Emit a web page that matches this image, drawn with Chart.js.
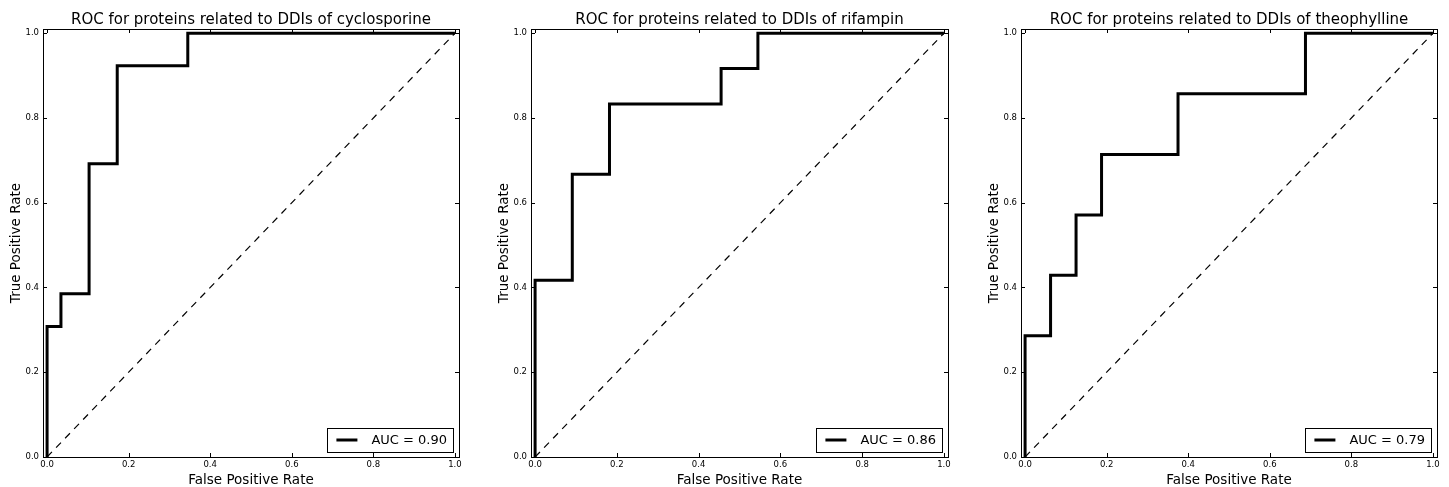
<!DOCTYPE html>
<html>
<head>
<meta charset="utf-8">
<script src="https://cdn.jsdelivr.net/npm/chart.js@4.4.0/dist/chart.umd.min.js"></script>
<style>
  body { margin: 0; background: #fff; width: 1449px; height: 487px; position: relative; overflow: hidden; }
  .panel { position: absolute; top: 0; height: 487px; }
</style>
</head>
<body>
<div class="panel" style="left:0px;width:471px"><canvas id="roc1"></canvas></div>
<div class="panel" style="left:488px;width:472px"><canvas id="roc2"></canvas></div>
<div class="panel" style="left:978px;width:471px"><canvas id="roc3"></canvas></div>
<script>
// ROC curves (fpr / tpr pairs, step corners included)
const drugs = ["cyclosporine", "rifampin", "theophylline"];
const aucValues = [0.90, 0.86, 0.79];

const fprCyclo = [0, 0, 0.034, 0.034, 0.103, 0.103, 0.172, 0.172, 0.345, 0.345, 1];
const tprCyclo = [0, 0.308, 0.308, 0.385, 0.385, 0.692, 0.692, 0.923, 0.923, 1, 1];

const fprRifam = [0, 0, 0.091, 0.091, 0.182, 0.182, 0.455, 0.455, 0.545, 0.545, 1];
const tprRifam = [0, 0.417, 0.417, 0.667, 0.667, 0.833, 0.833, 0.917, 0.917, 1, 1];

const fprTheo = [0, 0, 0.0625, 0.0625, 0.125, 0.125, 0.1875, 0.1875, 0.375, 0.375, 0.6875, 0.6875, 1];
const tprTheo = [0, 0.286, 0.286, 0.429, 0.429, 0.571, 0.571, 0.714, 0.714, 0.857, 0.857, 1, 1];

const chanceX = [0, 1];
const chanceY = [0, 1];

const tickValues = [0, 0.2, 0.4, 0.6, 0.8, 1.0];

const FONT = "'DejaVu Sans', 'Liberation Sans', sans-serif";

function toPoints(xs, ys) {
  return xs.map((x, i) => ({ x: x, y: ys[i] }));
}

// box around the axes + inward ticks on all four sides (matplotlib classic look)
const framePlugin = {
  id: "frame",
  afterDatasetsDraw(chart) {
    const { ctx, chartArea: a, scales } = chart;
    ctx.save();
    ctx.strokeStyle = "#000";
    ctx.lineWidth = 1;
    ctx.strokeRect(Math.round(a.left) + 0.5, Math.round(a.top) + 0.5,
      Math.round(a.right - a.left), Math.round(a.bottom - a.top));
    ctx.beginPath();
    tickValues.forEach(v => {
      const px = Math.round(scales.x.getPixelForValue(v)) + 0.5;
      ctx.moveTo(px, a.bottom); ctx.lineTo(px, a.bottom - 4);
      ctx.moveTo(px, a.top); ctx.lineTo(px, a.top + 4);
      const py = Math.round(scales.y.getPixelForValue(v)) + 0.5;
      ctx.moveTo(a.left, py); ctx.lineTo(a.left + 4, py);
      ctx.moveTo(a.right, py); ctx.lineTo(a.right - 4, py);
    });
    ctx.stroke();
    ctx.restore();
  }
};

// legend box in the lower right corner, inside the axes
const aucLegend = {
  id: "aucLegend",
  afterDatasetsDraw(chart) {
    const { ctx, chartArea: a } = chart;
    const ds = chart.data.datasets[0];
    ctx.save();
    ctx.font = "13px " + FONT;
    const tw = ctx.measureText(ds.label).width;
    const w = 9 + 21 + 14 + tw + 6;
    const h = 24;
    const right = a.right - 6;
    const bottom = a.bottom - 5;
    const left = right - w;
    const top = bottom - h;
    ctx.fillStyle = "#fff";
    ctx.fillRect(left, top, w, h);
    ctx.strokeStyle = "#000";
    ctx.lineWidth = 1;
    ctx.strokeRect(Math.round(left) + 0.5, Math.round(top) + 0.5, Math.round(w), h);
    const cy = top + h / 2;
    ctx.beginPath();
    ctx.lineWidth = ds.borderWidth;
    ctx.moveTo(left + 9, cy);
    ctx.lineTo(left + 30, cy);
    ctx.stroke();
    ctx.fillStyle = "#000";
    ctx.textBaseline = "middle";
    ctx.fillText(ds.label, left + 44, cy + 1);
    ctx.restore();
  }
};

function makeRoc(canvasId, drug, auc, fpr, tpr) {
  const ctx = document.getElementById(canvasId).getContext("2d");
  return new Chart(ctx, {
    type: "scatter",
    data: {
      datasets: [
        {
          label: "AUC = " + auc.toFixed(2),
          data: toPoints(fpr, tpr),
          showLine: true,
          borderColor: "#000",
          borderWidth: 3,
          pointRadius: 0,
          tension: 0,
        },
        {
          label: "chance",
          data: toPoints(chanceX, chanceY),
          showLine: true,
          borderColor: "#000",
          borderWidth: 1.2,
          borderDash: [7, 6],
          pointRadius: 0,
        },
      ],
    },
    options: {
      responsive: true,
      maintainAspectRatio: false,
      animation: false,
      layout: { padding: { top: 0, right: 12, bottom: 0, left: 0 } },
      plugins: {
        legend: { display: false },
        tooltip: { enabled: false },
        title: {
          display: true,
          fullSize: false,
          text: "ROC for proteins related to DDIs of " + drug,
          color: "#000",
          font: { family: FONT, size: 15, weight: "normal", lineHeight: 17 / 15 },
          padding: { top: 12, bottom: 0 },
        },
      },
      scales: {
        x: {
          type: "linear",
          min: -0.01,
          max: 1.01,
          afterBuildTicks: s => { s.ticks = tickValues.map(v => ({ value: v })); },
          afterFit: s => { s.height = 30; },
          grid: { display: false, drawTicks: false, tickLength: 0 },
          border: { display: false },
          ticks: {
            color: "#000",
            padding: 3,
            maxRotation: 0,
            font: { family: FONT, size: 8.5 },
            callback: v => v.toFixed(1),
          },
          title: {
            display: true,
            text: "False Positive Rate",
            color: "#000",
            font: { family: FONT, size: 13.5, lineHeight: 1 },
            padding: { top: 0, bottom: 0 },
          },
        },
        y: {
          type: "linear",
          min: 0,
          max: 1.01,
          afterBuildTicks: s => { s.ticks = tickValues.map(v => ({ value: v })); },
          afterFit: s => { s.width = 43; },
          grid: { display: false, drawTicks: false, tickLength: 0 },
          border: { display: false },
          ticks: {
            color: "#000",
            padding: 4,
            font: { family: FONT, size: 8.5 },
            callback: v => v.toFixed(1),
          },
          title: {
            display: true,
            text: "True Positive Rate",
            color: "#000",
            font: { family: FONT, size: 13.5 },
            padding: { top: 8, bottom: 0 },
          },
        },
      },
    },
    plugins: [framePlugin, aucLegend],
  });
}

makeRoc("roc1", drugs[0], aucValues[0], fprCyclo, tprCyclo);
makeRoc("roc2", drugs[1], aucValues[1], fprRifam, tprRifam);
makeRoc("roc3", drugs[2], aucValues[2], fprTheo, tprTheo);
</script>
</body>
</html>
